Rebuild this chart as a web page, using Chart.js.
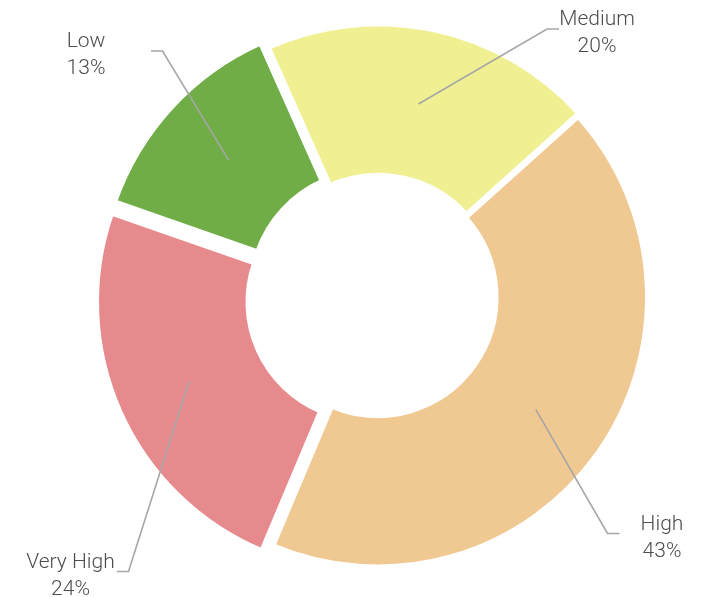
<!DOCTYPE html>
<html>
<head>
<meta charset="utf-8">
<script src="https://cdn.jsdelivr.net/npm/chart.js@4.4.0/dist/chart.umd.min.js"></script>
<style>
  html, body { margin: 0; padding: 0; background: #fff; }
  #wrap { width: 702px; height: 597px; }
</style>
</head>
<body>
<div id="wrap"><canvas id="riskChart" width="702" height="597"></canvas></div>
<script>
// datos del gráfico
const categories = ["Medium", "High", "Very High", "Low"];
const shares = [20, 43, 24, 13];
const sliceColors = ["#F0F093", "#F0C891", "#E78A8D", "#70AD47"];
const sliceOffsets = [12, 0, 48, 32]; // chart.js moves a slice by offset/4

// where each leader line bends (relative to the centre), tail length, text centre from the bend
const labelLayout = [
    { dx: 169.5, dy: -268, tail: 12, text: 50 },
    { dx: 230, dy: 236.5, tail: 12, text: 54.5 },
    { dx: -249, dy: 274.5, tail: -11.5, text: -58 },
    { dx: -215, dy: -246, tail: -11.5, text: -76.5 }
];

const total = shares.reduce((a, b) => a + b, 0);

// labels with leader lines, anchored on the drawn arcs
const leaderLabels = {
    id: "leaderLabels",
    afterDatasetsDraw(chart) {
        const ctx = chart.ctx;
        const meta = chart.getDatasetMeta(0);
        ctx.save();
        meta.data.forEach((arc, i) => {
            const p = arc.getProps(["x", "y", "startAngle", "endAngle", "innerRadius", "outerRadius"]);
            const mid = (p.startAngle + p.endAngle) / 2;
            const shift = (arc.options.offset || 0) / 4;
            const rMid = (p.innerRadius + p.outerRadius) / 2;
            const sx = p.x + Math.cos(mid) * (shift + rMid);
            const sy = p.y + Math.sin(mid) * (shift + rMid);
            const l = labelLayout[i];
            const ex = p.x + l.dx;
            const ey = p.y + l.dy;

            ctx.beginPath();
            ctx.moveTo(sx, sy);
            ctx.lineTo(ex, ey);
            ctx.lineTo(ex + l.tail, ey);
            ctx.strokeStyle = "#a6a6a6";
            ctx.lineWidth = 1.6;
            ctx.stroke();

            ctx.fillStyle = "#4d4d4d";
            ctx.font = "300 21px Roboto";
            ctx.textAlign = "center";
            ctx.textBaseline = "alphabetic";
            ctx.fillText(categories[i], ex + l.text, ey - 4);
            ctx.fillText(Math.round(shares[i] / total * 100) + "%", ex + l.text, ey + 23);
        });
        ctx.restore();
    }
};

const ctx = document.getElementById("riskChart").getContext("2d");
const riskChart = new Chart(ctx, {
    type: "doughnut",
    data: {
        labels: categories,
        datasets: [{
            data: shares,
            backgroundColor: sliceColors,
            borderColor: "#ffffff",
            borderWidth: 5,
            offset: sliceOffsets,
            hoverOffset: 0
        }]
    },
    options: {
        responsive: false,
        animation: false,
        rotation: -24,
        cutout: "43.9%",
        layout: {
            padding: { top: 0.5, bottom: 3.5, left: 81, right: 28 }
        },
        plugins: {
            legend: { display: false },
            tooltip: { enabled: false }
        }
    },
    plugins: [leaderLabels]
});
</script>
</body>
</html>
